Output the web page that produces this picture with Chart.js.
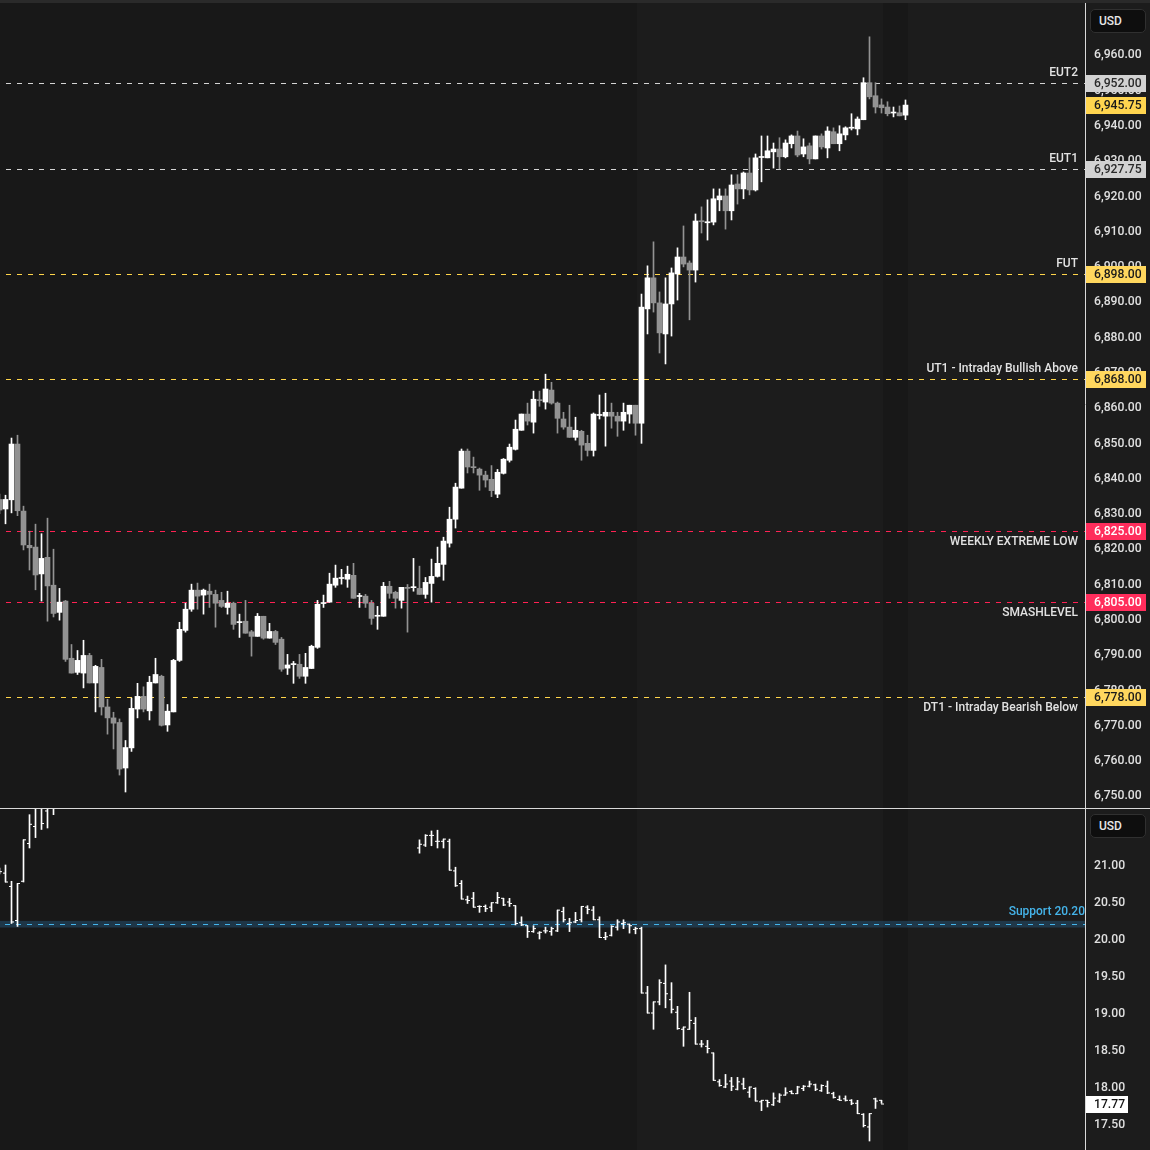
<!DOCTYPE html>
<html><head><meta charset="utf-8">
<script src="https://cdn.jsdelivr.net/npm/chart.js@4.4.1/dist/chart.umd.min.js"></script>
<style>
html,body{margin:0;padding:0;background:#1c1c1c;}
#wrap{position:relative;width:1150px;height:1150px;overflow:hidden;background:#1c1c1c;}
#c1{position:absolute;left:0;top:0;}
#topstrip{position:absolute;left:0;top:0;width:1150px;height:3px;background:#2a2a2a;}
#sep{position:absolute;left:0;top:808px;width:1150px;height:1px;background:#d9d9d9;}
#c2{position:absolute;left:0;top:809px;}
.usd{position:absolute;left:1090px;width:56px;height:24px;box-sizing:border-box;border:1px solid #303030;border-radius:5px;background:#0e0e0e;color:#e6e6e6;font:500 12px Roboto,sans-serif;line-height:22px;padding-left:8px;}
</style></head>
<body><div id="wrap">
<canvas id="c1" width="1150" height="808"></canvas>
<div id="topstrip"></div>
<div id="sep"></div>
<canvas id="c2" width="1150" height="341"></canvas>
<div class="usd" style="top:9px">USD</div>
<div class="usd" style="top:814px">USD</div>
</div>
<script>
// ---------- DATA ----------
const FIRST_INDEX = -1; // bar index of first element
// ES futures candles (index -1 .. 150)
const esOpen = [6834,6831.3,6833.9,6849.7,6830.7,6821.0,6820.5,6812.9,6817.6,6809.7,6802.0,6805.2,6789.0,6785.0,6784.8,6789.8,6782.0,6786.4,6775.2,6772.1,6770.8,6757.9,6763.6,6774.6,6778.2,6774.1,6782.0,6783.9,6770.1,6773.8,6788.4,6796.9,6802.9,6808.3,6806.9,6808.0,6807.1,6805.4,6803.4,6804.6,6799.1,6799.5,6796.5,6795.2,6800.9,6794.7,6796.6,6794.4,6786.2,6787.2,6787.3,6783.9,6786.1,6792.1,6804.5,6804.9,6809.7,6811.6,6811.4,6812.5,6806.5,6806.6,6804.6,6800.9,6800.9,6809.4,6807.7,6805.4,6809.1,6809.0,6808.8,6807.1,6810.2,6812.2,6815.6,6821.6,6828.4,6837.2,6847.7,6843.2,6842.6,6840.9,6839.7,6835.5,6841.4,6845.1,6848.2,6853.6,6858.2,6855.9,6862.2,6861.6,6865.0,6861.3,6856.8,6854.5,6851.6,6853.3,6849.9,6847.9,6857.8,6857.6,6858.7,6857.6,6856.2,6858.2,6860.7,6855.6,6888.0,6896.8,6889.7,6880.9,6889.4,6897.9,6902.7,6901.0,6899.0,6913.0,6912.4,6912.6,6918.9,6920.0,6915.8,6923.4,6922.0,6926.5,6921.7,6930.9,6930.8,6932.5,6933.3,6931.1,6934.8,6937.0,6931.9,6934.2,6930.5,6937.0,6933.6,6938.2,6934.8,6937.3,6939.2,6939.0,6941.6,6952.1,6948.4,6945.8,6945.2,6943.5,6943.6,6942.9];
const esHigh = [6835.5,6835.2,6851.4,6852.2,6832.1,6825.0,6827.0,6824.3,6828.7,6819.9,6808.8,6805.4,6792.9,6791.2,6794.1,6790.4,6787.0,6788.7,6777.4,6773.7,6771.8,6765.7,6777.7,6781.9,6780.9,6783.9,6789.0,6784.2,6775.9,6788.7,6799.2,6804.6,6810.0,6810.3,6808.6,6810.0,6808.3,6807.7,6808.0,6804.9,6801.5,6805.4,6796.9,6801.7,6800.9,6798.9,6796.9,6794.9,6790.1,6788.1,6790.1,6790.4,6792.7,6805.4,6806.9,6813.1,6815.4,6814.2,6815.1,6815.9,6807.4,6807.1,6805.4,6803.7,6810.5,6810.8,6808.0,6809.1,6809.9,6817.3,6815.1,6811.9,6817.1,6820.5,6823.3,6831.8,6838.6,6848.3,6848.3,6846.0,6842.9,6842.0,6843.6,6842.5,6845.6,6849.7,6856.5,6858.2,6861.3,6864.7,6864.7,6869.5,6867.2,6861.6,6858.7,6860.7,6857.3,6853.6,6852.2,6858.5,6863.6,6864.1,6861.3,6858.7,6861.3,6860.7,6860.7,6892.2,6900.2,6907.0,6892.8,6896.8,6899.6,6905.3,6911.5,6901.6,6914.9,6916.9,6918.9,6922.0,6922.0,6922.0,6926.0,6926.0,6926.8,6930.8,6931.9,6937.0,6937.0,6935.0,6936.5,6935.9,6937.3,6938.4,6936.2,6935.0,6937.0,6937.6,6939.6,6939.3,6939.9,6939.6,6943.3,6942.4,6953.5,6965.1,6952.1,6947.5,6946.7,6945.2,6945.5,6947.2];
const esLow = [6830,6827.1,6830.2,6829.4,6819.7,6814.0,6808.4,6805.2,6799.5,6800.7,6799.8,6788.1,6784.8,6784.4,6780.6,6782.0,6773.8,6772.9,6767.5,6763.3,6755.9,6751.1,6762.6,6772.1,6773.8,6771.5,6782.0,6769.8,6768.3,6773.8,6788.1,6796.4,6802.3,6802.9,6801.5,6803.4,6797.8,6803.4,6801.5,6797.2,6794.9,6796.1,6789.6,6795.2,6794.4,6794.7,6792.9,6785.3,6784.4,6781.9,6783.3,6781.9,6786.1,6791.8,6803.4,6804.9,6809.1,6810.0,6809.1,6806.0,6803.4,6803.4,6798.6,6797.2,6800.9,6806.0,6803.2,6803.2,6796.4,6808.0,6807.1,6806.0,6804.9,6812.0,6811.1,6820.5,6825.9,6837.2,6841.5,6841.5,6836.6,6837.5,6834.8,6834.5,6841.2,6844.6,6848.0,6853.6,6855.1,6852.8,6860.4,6859.6,6861.0,6852.8,6853.9,6851.6,6850.8,6845.1,6846.3,6846.3,6856.8,6849.1,6854.2,6851.9,6853.6,6855.6,6852.2,6849.9,6880.9,6887.1,6875.5,6872.4,6880.3,6890.5,6899.9,6884.9,6895.6,6909.5,6907.5,6911.8,6915.8,6910.6,6913.2,6917.7,6919.2,6920.3,6921.4,6924.0,6930.8,6927.9,6927.7,6930.8,6933.6,6931.1,6931.1,6929.1,6930.5,6933.3,6930.8,6934.8,6932.8,6935.9,6938.7,6937.3,6941.6,6947.5,6943.5,6943.5,6942.7,6942.4,6942.7,6941.6];
const esClose = [6831,6834.0,6849.7,6830.8,6821.1,6820.3,6812.6,6817.3,6809.5,6801.7,6804.9,6788.7,6784.8,6788.4,6789.8,6782.0,6786.7,6775.2,6772.1,6770.6,6757.6,6763.7,6774.8,6778.2,6774.6,6782.2,6784.4,6770.0,6774.0,6788.4,6797.2,6802.9,6808.3,6806.6,6808.3,6807.1,6804.6,6803.7,6804.6,6798.6,6799.2,6796.1,6795.2,6800.9,6794.7,6796.6,6793.5,6785.9,6787.1,6787.3,6783.9,6786.4,6792.4,6804.3,6804.6,6810.0,6811.7,6811.7,6812.8,6806.0,6806.6,6804.6,6800.3,6801.0,6809.4,6807.4,6806.0,6809.1,6808.8,6809.1,6807.1,6810.5,6812.2,6815.9,6822.2,6828.4,6837.5,6847.7,6843.2,6843.0,6840.9,6839.5,6836.5,6841.7,6845.4,6848.8,6853.9,6858.2,6856.2,6862.4,6862.0,6865.3,6861.3,6857.0,6854.5,6851.6,6853.6,6849.4,6847.9,6858.2,6857.9,6858.7,6857.6,6856.2,6858.7,6860.7,6855.6,6888.5,6896.8,6889.7,6881.2,6889.4,6898.2,6902.7,6900.7,6899.0,6912.9,6912.7,6912.7,6919.2,6920.0,6915.8,6923.1,6922.0,6926.5,6921.7,6930.8,6931.0,6932.8,6933.3,6931.1,6935.0,6937.0,6931.6,6933.9,6930.5,6937.0,6933.9,6938.4,6934.8,6937.6,6939.3,6939.3,6941.8,6952.1,6948.1,6945.2,6945.0,6943.3,6943.6,6942.7,6945.75];

// VIX OHLC bars (index -1 .. 146); null = above visible range
const vixOpen = [20.93,20.89,20.71,20.25,20.78,21.29,21.52,21.80,21.73,21.80,
  null,null,null,null,null,null,null,null,null,null,null,null,null,null,null,null,null,null,null,null,null,null,null,null,null,null,null,null,null,null,null,null,null,null,null,null,null,null,null,null,null,null,null,null,null,null,null,null,null,null,null,null,null,null,null,null,null,null,null,null,
  21.23,21.27,21.40,21.32,21.32,21.32,20.92,20.75,20.53,20.55,20.44,20.44,20.43,20.49,20.55,20.50,20.45,20.22,20.18,20.10,20.08,20.11,20.10,20.11,20.37,20.21,20.23,20.26,20.43,20.39,20.26,20.02,20.05,20.16,20.21,20.20,20.13,20.14,19.27,19.00,19.15,19.40,19.18,19.01,18.78,18.78,18.86,18.58,18.55,18.46,18.07,18.00,18.08,17.97,18.04,17.93,17.98,17.80,17.82,17.76,17.81,17.89,17.94,17.91,17.98,18.01,18.03,17.95,18.01,17.91,17.83,17.84,17.82,17.78,17.63,17.46,17.84,17.82];
const vixHigh = [20.96,21.00,20.78,20.75,21.34,21.68,21.85,21.85,21.85,21.90,
  null,null,null,null,null,null,null,null,null,null,null,null,null,null,null,null,null,null,null,null,null,null,null,null,null,null,null,null,null,null,null,null,null,null,null,null,null,null,null,null,null,null,null,null,null,null,null,null,null,null,null,null,null,null,null,null,null,null,null,null,
  21.34,21.41,21.46,21.47,21.35,21.35,20.97,20.79,20.58,20.63,20.45,20.46,20.49,20.63,20.55,20.55,20.45,20.30,20.18,20.18,20.10,20.16,20.16,20.39,20.43,20.28,20.36,20.44,20.45,20.44,20.30,20.09,20.18,20.26,20.26,20.20,20.16,20.16,19.36,19.15,19.45,19.65,19.41,19.09,18.81,19.28,18.94,18.63,18.63,18.46,18.10,18.17,18.13,18.13,18.12,18.00,17.99,17.82,17.82,17.92,17.91,17.99,17.95,18.01,18.02,18.08,18.04,18.03,18.08,17.93,17.88,17.88,17.83,17.82,17.64,17.64,17.85,17.82];
const vixLow = [20.88,20.77,20.21,20.17,20.77,21.23,21.37,21.48,21.50,21.68,
  null,null,null,null,null,null,null,null,null,null,null,null,null,null,null,null,null,null,null,null,null,null,null,null,null,null,null,null,null,null,null,null,null,null,null,null,null,null,null,null,null,null,null,null,null,null,null,null,null,null,null,null,null,null,null,null,null,null,null,null,
  21.16,21.25,21.26,21.23,21.23,20.93,20.71,20.54,20.48,20.43,20.36,20.37,20.37,20.48,20.45,20.44,20.19,20.18,20.02,20.09,20.00,20.08,20.05,20.10,20.23,20.10,20.22,20.23,20.34,20.26,20.02,19.99,20.04,20.12,20.14,20.08,20.07,19.27,19.00,18.78,19.11,19.07,19.00,18.78,18.55,18.78,18.58,18.54,18.46,18.09,18.01,17.99,17.95,17.96,17.97,17.86,17.81,17.68,17.73,17.75,17.79,17.89,17.91,17.91,17.95,18.00,17.95,17.94,17.91,17.85,17.82,17.81,17.76,17.64,17.46,17.27,17.71,17.78];
const vixClose = [20.91,20.77,20.23,20.75,21.34,21.55,21.80,21.56,21.80,21.82,
  null,null,null,null,null,null,null,null,null,null,null,null,null,null,null,null,null,null,null,null,null,null,null,null,null,null,null,null,null,null,null,null,null,null,null,null,null,null,null,null,null,null,null,null,null,null,null,null,null,null,null,null,null,null,null,null,null,null,null,null,
  21.28,21.40,21.40,21.32,21.35,20.93,20.72,20.54,20.52,20.43,20.44,20.41,20.49,20.56,20.46,20.48,20.21,20.19,20.10,20.14,20.09,20.11,20.14,20.39,20.26,20.22,20.25,20.44,20.40,20.26,20.02,20.03,20.17,20.23,20.22,20.18,20.14,19.27,19.00,19.15,19.41,19.26,19.05,18.79,18.81,18.90,18.58,18.58,18.52,18.09,18.02,18.04,18.01,18.07,17.98,18.00,17.81,17.82,17.79,17.85,17.89,17.92,17.91,18.00,18.01,18.04,17.97,18.02,17.92,17.86,17.82,17.82,17.78,17.64,17.48,17.64,17.81,17.77];

// Tick labels
const esTicks = [6750,6760,6770,6780,6790,6800,6810,6820,6830,6840,6850,6860,6870,6880,6890,6900,6910,6920,6930,6940,6950,6960];
const vixTicks = [17.5,18.0,18.5,19.0,19.5,20.0,20.5,21.0];

// Horizontal levels (top panel)
const levelValues = [6952, 6927.75, 6898, 6868, 6825, 6805, 6778];
const levelNames  = ['EUT2','EUT1','FUT','UT1 - Intraday Bullish Above','WEEKLY EXTREME LOW','SMASHLEVEL','DT1 - Intraday Bearish Below'];
const levelKinds  = ['white','white','yellow','yellow','red','red','yellow'];
const levelLabelSide = ['above','above','above','above','below','below','below'];
// Support level (bottom panel)
const supportValue = 20.20;
const supportLabel = 'Support 20.20';
// out-of-session shading (bar index ranges)
const offSessions = [[-5, 105.25], [146.3, 150.45]];

// ---------- STYLE ----------
const FONT = 'Roboto, "Liberation Sans", sans-serif';
const BG = '#1c1c1c', OFF_BG = '#181818';
const UP = '#ffffff', DOWN = '#939393';
const kindStyle = {
  white: {line:'#d4d4d4', tag:'#d2d2d2', text:'#2a2a2a'},
  yellow:{line:'#ffd54a', tag:'#ffd75e', text:'#1a1a1a'},
  red:   {line:'#ff2153', tag:'#ff2d5c', text:'#ffffff'}
};
const X_MIN = -5.5/6, X_MAX = (1085-5.5)/6;
const ES_PX = 3.529, ES_TOP_Y = 54.8;   // pixel scale of price axis
const VIX_PX = 74, VIX_21_Y = 865 - 809;

function fmtES(v){return v.toLocaleString('en-US',{minimumFractionDigits:2,maximumFractionDigits:2});}

// crisp 1px dashed horizontal line
function dashLine(ctx, x0, x1, y, color, dash, gap, start){
  ctx.fillStyle = color;
  const row = Math.round(y);
  for (let x = x0 + start; x < x1; x += dash + gap) {
    ctx.fillRect(x, row, Math.min(dash, x1 - x), 1);
  }
}

const bgPlugin = {
  id:'bg',
  beforeDraw(chart){
    const {ctx, chartArea:a, scales:{x}} = chart;
    ctx.save();
    ctx.fillStyle = BG; ctx.fillRect(0,0,chart.width,chart.height);
    ctx.fillStyle = OFF_BG;
    offSessions.forEach(r=>{
      const x0 = Math.max(a.left, x.getPixelForValue(r[0])), x1 = Math.min(a.right, x.getPixelForValue(r[1]));
      ctx.fillRect(Math.round(x0), a.top, Math.round(x1)-Math.round(x0), a.bottom-a.top);
    });
    ctx.restore();
  }
};

function sizeAxis(s){ s.width = 65; s.paddingTop = 0; s.paddingBottom = 0; }

function axisLabels(chart, ticks, fmt){
  const {ctx, scales:{y}} = chart;
  ctx.save();
  ctx.font = '500 12.2px ' + FONT; ctx.fillStyle = '#e0e0e0';
  ctx.textAlign = 'left'; ctx.textBaseline = 'middle';
  ticks.forEach(v=>{ ctx.fillText(fmt(v), 1094, y.getPixelForValue(v) + 0.5); });
  ctx.restore();
}

// ---------- TOP CHART ----------
const esIdx = esOpen.map((_,i)=>i+FIRST_INDEX);
const esColors = esOpen.map((o,i)=> esClose[i] >= o ? UP : DOWN);

const levelsPlugin = {
  id:'levels',
  beforeDatasetsDraw(chart){
    const {ctx, chartArea:a, scales:{y}} = chart;
    ctx.save();
    levelValues.forEach((v,i)=>{
      dashLine(ctx, a.left, a.right, y.getPixelForValue(v), kindStyle[levelKinds[i]].line, 5, 6, 6);
    });
    ctx.restore();
  },
  afterDraw(chart){
    const {ctx, chartArea:a, scales:{y}} = chart;
    axisLabels(chart, esTicks, fmtES);
    ctx.save();
    ctx.font = '500 12px ' + FONT;
    levelValues.forEach((v,i)=>{
      const py = y.getPixelForValue(v);
      ctx.fillStyle = '#e2e2e2'; ctx.textAlign = 'right'; ctx.textBaseline = 'middle';
      ctx.fillText(levelNames[i], 1078, levelLabelSide[i]==='above' ? py - 10 : py + 11);
    });
    // price tags on axis
    const tags = levelValues.map((v,i)=>({v, st:kindStyle[levelKinds[i]]}));
    tags.push({v: esClose[esClose.length-1], st:{tag:'#ffd54f', text:'#1a1a1a'}});
    ctx.font = '500 12.2px ' + FONT;
    tags.forEach(t=>{
      const py = Math.round(y.getPixelForValue(t.v));
      ctx.fillStyle = t.st.tag;
      ctx.fillRect(a.right+1, py-8, 60, 17);
      ctx.fillStyle = t.st.text; ctx.textAlign='left'; ctx.textBaseline='middle';
      ctx.fillText(fmtES(t.v), 1094, py+1);
    });
    ctx.restore();
  }
};

new Chart(document.getElementById('c1'), {
  type:'bar',
  data:{ datasets:[
    { label:'wick', grouped:false, barThickness:1, minBarLength:1, borderWidth:0, clip:0,
      data: esIdx.map((k,i)=>({x:k, y:[esLow[i], esHigh[i]]})), backgroundColor: esColors },
    { label:'body', grouped:false, barThickness:5, minBarLength:1, borderWidth:0, clip:0,
      data: esIdx.map((k,i)=>({x:k, y:[Math.min(esOpen[i],esClose[i]), Math.max(esOpen[i],esClose[i])]})), backgroundColor: esColors }
  ]},
  options:{
    responsive:false, animation:false, events:[],
    layout:{padding:0, autoPadding:false},
    plugins:{legend:{display:false}, tooltip:{enabled:false}},
    scales:{
      x:{type:'linear', min:X_MIN, max:X_MAX, offset:false, display:false},
      y:{type:'linear', position:'right', min:6960-(808-ES_TOP_Y)/ES_PX, max:6960+ES_TOP_Y/ES_PX,
         afterFit: sizeAxis,
         grid:{display:false, drawTicks:false},
         border:{display:true, color:'#d9d9d9', width:1},
         ticks:{display:false}
      }
    }
  },
  plugins:[bgPlugin, levelsPlugin]
});

// ---------- BOTTOM CHART ----------
const vixIdx = vixOpen.map((_,i)=>i+FIRST_INDEX);
const keep = vixIdx.map((k,i)=>vixOpen[i]!==null);
const vixHL = vixIdx.map((k,i)=>({x:k, y:[vixLow[i], vixHigh[i]]})).filter((_,i)=>keep[i]);
const vixO = vixIdx.map((k,i)=>({x:k-1/6, y:vixOpen[i]})).filter((_,i)=>keep[i]);
const vixC = vixIdx.map((k,i)=>({x:k+1/6, y:vixClose[i]})).filter((_,i)=>keep[i]);

const supportPlugin = {
  id:'support',
  beforeDatasetsDraw(chart){
    const {ctx, chartArea:a, scales:{y}} = chart;
    ctx.save();
    ctx.fillStyle = 'rgba(38,92,128,0.45)';
    const t = y.getPixelForValue(supportValue+0.045), b = y.getPixelForValue(supportValue-0.045);
    ctx.fillRect(a.left, t, a.right-a.left, b-t);
    dashLine(ctx, a.left, a.right, y.getPixelForValue(supportValue), '#45b4ea', 5, 6, 5);
    ctx.restore();
  },
  afterDraw(chart){
    const {ctx, chartArea:a, scales:{y}} = chart;
    axisLabels(chart, vixTicks, v=>v.toFixed(2));
    const py = y.getPixelForValue(supportValue);
    ctx.save();
    ctx.font = '500 12px ' + FONT;
    ctx.fillStyle = '#45b4ea'; ctx.textAlign='right'; ctx.textBaseline='middle';
    ctx.fillText(supportLabel, a.right, py - 12);
    const last = vixClose[vixClose.length-1];
    const ly = Math.round(y.getPixelForValue(last));
    ctx.font = '500 12.2px ' + FONT;
    ctx.fillStyle = '#ffffff'; ctx.fillRect(a.right+1, ly-8, 42, 17);
    ctx.fillStyle = '#131313'; ctx.textAlign='left';
    ctx.fillText(last.toFixed(2), 1094, ly+1);
    ctx.restore();
  }
};

new Chart(document.getElementById('c2'), {
  type:'bar',
  data:{ datasets:[
    { type:'bar', label:'hl', grouped:false, barThickness:1, minBarLength:1, borderWidth:0, clip:0,
      data: vixHL, backgroundColor:'#ffffff' },
    { type:'line', label:'open', showLine:false, clip:0, data: vixO,
      pointStyle:'line', pointRadius:1.5, pointBorderWidth:1, pointBorderColor:'#ffffff', pointBackgroundColor:'#ffffff', pointHoverRadius:0 },
    { type:'line', label:'close', showLine:false, clip:0, data: vixC,
      pointStyle:'line', pointRadius:1.5, pointBorderWidth:1, pointBorderColor:'#ffffff', pointBackgroundColor:'#ffffff', pointHoverRadius:0 }
  ]},
  options:{
    responsive:false, animation:false, events:[],
    layout:{padding:0, autoPadding:false},
    plugins:{legend:{display:false}, tooltip:{enabled:false}},
    scales:{
      x:{type:'linear', min:X_MIN, max:X_MAX, offset:false, display:false},
      y:{type:'linear', position:'right', min:21-(341-VIX_21_Y)/VIX_PX, max:21+VIX_21_Y/VIX_PX,
         afterFit: sizeAxis,
         grid:{display:false, drawTicks:false},
         border:{display:true, color:'#d9d9d9', width:1},
         ticks:{display:false}
      }
    }
  },
  plugins:[bgPlugin, supportPlugin]
});
</script>
</body></html>
